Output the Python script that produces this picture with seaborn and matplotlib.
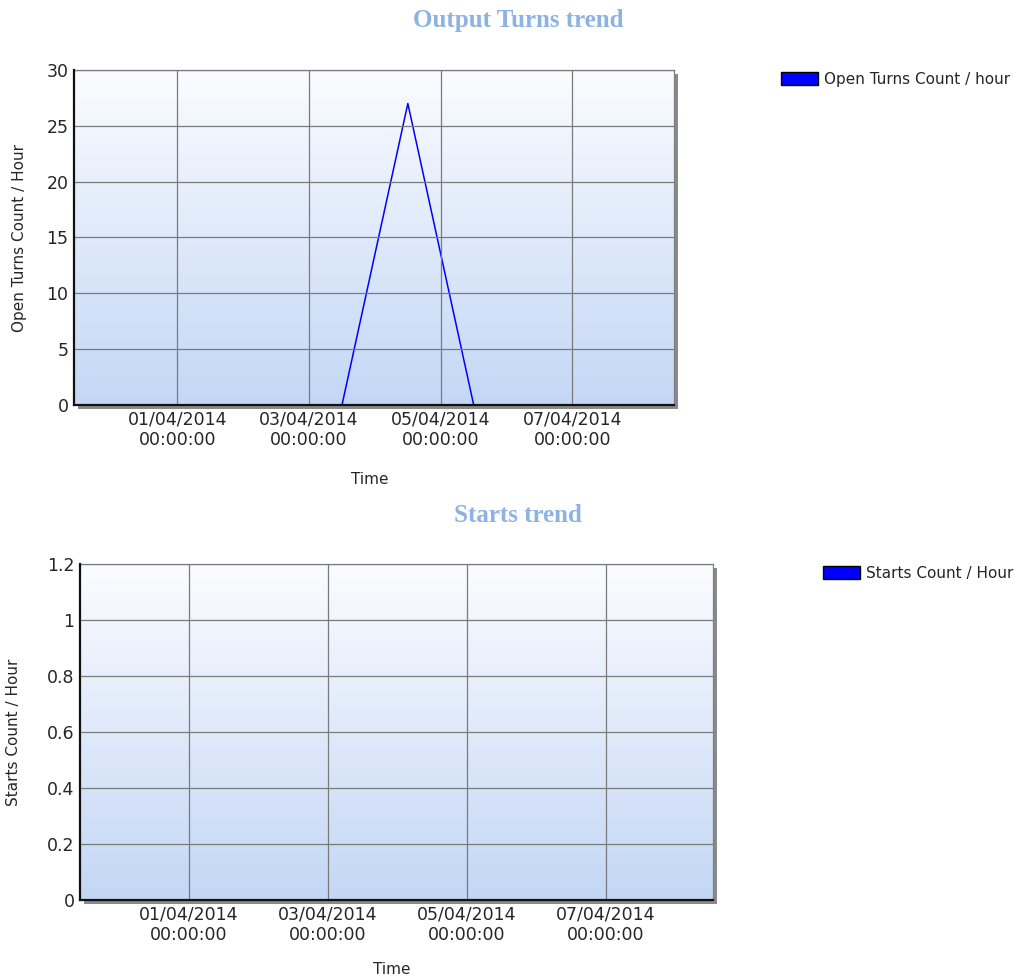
import numpy as np
import pandas as pd
import matplotlib
matplotlib.use("Agg")
import matplotlib.pyplot as plt
import matplotlib.dates as mdates
from matplotlib.colors import LinearSegmentedColormap
from matplotlib.patches import Patch, Rectangle
import seaborn as sns

# data
times = pd.to_datetime(["2014-03-31 12:00", "2014-04-01 12:00", "2014-04-02 12:00",
                        "2014-04-03 12:00", "2014-04-04 12:00", "2014-04-05 12:00",
                        "2014-04-06 12:00", "2014-04-07 12:00"])
open_turns = [0, 0, 0, 0, 27, 0, 0, 0]
starts = [0, 0, 0, 0, 0, 0, 0, 0]
tick_dates = pd.to_datetime(["2014-04-01", "2014-04-03", "2014-04-05", "2014-04-07"])
x_range = pd.to_datetime(["2014-03-30 10:20", "2014-04-08 13:00"])

sns.set_style("white")
plt.rcParams['font.family'] = ['DejaVu Sans']

fig = plt.figure(figsize=(10.18, 9.8), dpi=100)
bg_cmap = LinearSegmentedColormap.from_list("bg", ["#C3D7F5", "#FBFCFF"])
grad = np.linspace(0, 1, 256).reshape(-1, 1)


def trend_panel(rect, values, ylim, yticks, ylabel, legend_label, title, title_y, leg_xy,
                ylabel_x, xlabel_y):
    ax = fig.add_axes(rect)
    # drop shadow behind the plot area
    fig.patches.append(Rectangle((rect[0] + 4 / 1018, rect[1] - 4 / 980), rect[2], rect[3],
                                 transform=fig.transFigure, facecolor="#8a8a8a",
                                 edgecolor="none", zorder=-1))
    df = pd.DataFrame({"Time": times, "Value": values})
    sns.lineplot(data=df, x="Time", y="Value", ax=ax, color="#0000FF", linewidth=1.1, zorder=2)
    ax.imshow(grad, extent=[0, 1, 0, 1], transform=ax.transAxes, origin="lower",
              aspect="auto", cmap=bg_cmap, zorder=0)
    ax.set_xlim(x_range[0], x_range[1])
    ax.set_ylim(*ylim)
    ax.set_xticks(tick_dates)
    ax.xaxis.set_major_formatter(mdates.DateFormatter("%d/%m/%Y\n%H:%M:%S"))
    ax.set_yticks(yticks)
    ax.set_yticklabels([f"{v:g}" for v in yticks])
    ax.tick_params(length=0, labelsize=12.5, pad=4)
    ax.grid(True, color="#7a7a7a", linewidth=0.9)
    ax.set_axisbelow(False)
    for s in ["top", "right"]:
        ax.spines[s].set_color("#808080")
        ax.spines[s].set_linewidth(0.9)
    for s in ["left", "bottom"]:
        ax.spines[s].set_color("#111111")
        ax.spines[s].set_linewidth(1.6)
        ax.spines[s].set_zorder(3)
    ax.set_xlabel("Time", fontsize=11)
    ax.set_ylabel(ylabel, fontsize=11)
    ax.xaxis.set_label_coords(0.493, xlabel_y)
    ax.yaxis.set_label_coords(ylabel_x, 0.5)
    fig.text(0.509, title_y, title, ha="center", va="center", family="Liberation Serif",
             fontweight="bold", fontsize=18, color="#8DB3E2")
    fig.legend(handles=[Patch(facecolor="#0000FF", edgecolor="#000000", label=legend_label)],
               loc="upper left", bbox_to_anchor=leg_xy, frameon=False, fontsize=11,
               handlelength=2.4, handleheight=0.9, handletextpad=0.4,
               borderpad=0, borderaxespad=0)
    return ax


trend_panel([74 / 1018, 1 - 405 / 980, 600 / 1018, 335 / 980], open_turns, (0, 30),
            [0, 5, 10, 15, 20, 25, 30], "Open Turns Count / Hour", "Open Turns Count / hour",
            "Output Turns trend", 1 - 20 / 980, (781 / 1018, 1 - 72 / 980), -0.078, -0.2)
trend_panel([80 / 1018, 1 - 900 / 980, 633 / 1018, 336 / 980], starts, (0, 1.2),
            [0, 0.2, 0.4, 0.6, 0.8, 1.0, 1.2], "Starts Count / Hour", "Starts Count / Hour",
            "Starts trend", 1 - 515 / 980, (823 / 1018, 1 - 566 / 980), -0.093, -0.185)

fig.savefig("out.png", dpi=100, facecolor="white")
